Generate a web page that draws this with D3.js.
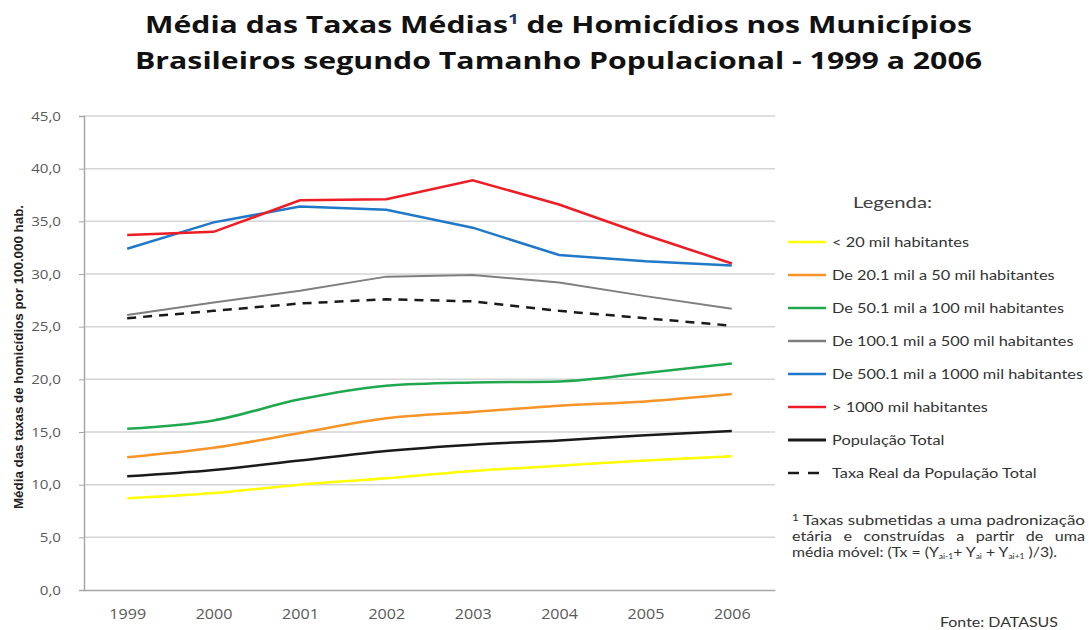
<!DOCTYPE html>
<html>
<head>
<meta charset="utf-8">
<script src="https://cdn.jsdelivr.net/npm/d3@7"></script>
<style>
  body { margin: 0; background: #fff; }
  svg { font-family: Lato, "Open Sans", sans-serif; }
</style>
</head>
<body>
<div id="chart"></div>
<script>
var years = ['1999', '2000', '2001', '2002', '2003', '2004', '2005', '2006'];
var yTicks = [0, 5, 10, 15, 20, 25, 30, 35, 40, 45];

var ate20 = [8.7, 9.2, 10.0, 10.6, 11.3, 11.8, 12.3, 12.7];
var de20a50 = [12.6, 13.5, 14.9, 16.3, 16.9, 17.5, 17.9, 18.6];
var de50a100 = [15.3, 16.1, 18.1, 19.4, 19.7, 19.8, 20.6, 21.5];
var de100a500 = [26.1, 27.3, 28.4, 29.75, 29.9, 29.2, 27.9, 26.7];
var de500a1000 = [32.4, 34.9, 36.4, 36.1, 34.4, 31.8, 31.2, 30.8];
var acima1000 = [33.7, 34.0, 37.0, 37.1, 38.9, 36.6, 33.7, 31.0];
var popTotal = [10.8, 11.4, 12.3, 13.2, 13.8, 14.2, 14.7, 15.1];
var taxaReal = [25.8, 26.5, 27.2, 27.6, 27.4, 26.5, 25.8, 25.1];

var series = [
  { name: '< 20 mil habitantes', values: ate20, color: '#ffff00', smooth: true },
  { name: 'De 20.1 mil a 50 mil habitantes', values: de20a50, color: '#f79327', smooth: true },
  { name: 'De 50.1 mil a 100 mil habitantes', values: de50a100, color: '#20a84e', smooth: true },
  { name: 'De 100.1 mil a 500 mil habitantes', values: de100a500, color: '#7f7f7f', smooth: false, w: 2 },
  { name: 'De 500.1 mil a 1000 mil habitantes', values: de500a1000, color: '#1f78c8', smooth: false },
  { name: '> 1000 mil habitantes', values: acima1000, color: '#ee1c24', smooth: false },
  { name: 'População Total', values: popTotal, color: '#1a1a1a', smooth: true },
  { name: 'Taxa Real da População Total', values: taxaReal, color: '#1a1a1a', smooth: false, dash: '9,7' }
];

var W = 1089, H = 630;
var svg = d3.select('#chart').append('svg').attr('width', W).attr('height', H);

// widen a text horizontally (the source picture is stretched)
function stretch(sel, k, len) {
  sel.each(function() {
    var t = d3.select(this);
    t.attr('textLength', len || this.getComputedTextLength() * k)
      .attr('lengthAdjust', 'spacingAndGlyphs');
  });
}

// title
var title = svg.append('g')
  .attr('text-anchor', 'middle')
  .attr('font-family', '"Open Sans", Lato, sans-serif')
  .attr('font-weight', 'bold')
  .attr('font-size', 24)
  .attr('fill', '#111');
var t1 = title.append('text').attr('x', 558.5).attr('y', 33);
t1.append('tspan').text('Média das Taxas Médias');
t1.append('tspan').attr('font-size', 15).attr('dy', -9).attr('fill', '#1f3864').text('1');
t1.append('tspan').attr('dy', 9).text(' de Homicídios nos Municípios');
var t2 = title.append('text').attr('x', 558.5).attr('y', 69)
  .text('Brasileiros segundo Tamanho Populacional - 1999 a 2006');
stretch(t1, 1, 827);
stretch(t2, 1, 847);

// scales
var x = d3.scalePoint().domain(years).range([84, 775]).padding(0.5);
var y = d3.scaleLinear().domain([0, 45]).range([590, 116]);

// grid
svg.append('g').selectAll('line').data(yTicks.slice(1)).enter().append('line')
  .attr('x1', 84).attr('x2', 775)
  .attr('y1', function(d) { return y(d); }).attr('y2', function(d) { return y(d); })
  .attr('stroke', '#d4d4d4').attr('stroke-width', 1.5);

// y axis
var yAxis = d3.axisLeft(y).tickValues(yTicks).tickSize(5).tickPadding(18)
  .tickFormat(function(d) { return d3.format('.1f')(d).replace('.', ','); });
var gy = svg.append('g').attr('transform', 'translate(84,0)').call(yAxis);
gy.select('.domain').attr('stroke', '#a6a6a6').attr('stroke-width', 1.5);
gy.selectAll('.tick line').attr('stroke', '#a6a6a6');
gy.selectAll('.tick text').attr('fill', '#595959').attr('font-size', 13.5)
  .attr('font-family', '"Open Sans", Lato, sans-serif');
stretch(gy.selectAll('.tick text'), 1.12);

// x axis
var xAxis = d3.axisBottom(x).tickSize(0).tickPadding(19);
var gx = svg.append('g').attr('transform', 'translate(0,590)').call(xAxis);
gx.select('.domain').attr('stroke', '#a6a6a6').attr('stroke-width', 1.5);
gx.selectAll('.tick text').attr('fill', '#595959').attr('font-size', 14)
  .attr('font-family', '"Open Sans", Lato, sans-serif');
stretch(gx.selectAll('.tick text'), 1.15);

// y label
svg.append('text')
  .attr('transform', 'translate(23,357) rotate(-90)')
  .attr('text-anchor', 'middle')
  .attr('font-family', '"Liberation Sans Narrow", "Liberation Sans", sans-serif')
  .attr('font-weight', 'bold')
  .attr('font-size', 12)
  .attr('fill', '#222')
  .attr('textLength', 304).attr('lengthAdjust', 'spacingAndGlyphs')
  .text('Média das taxas de homicídios por 100.000 hab.');

// lines
var gLines = svg.append('g');
series.forEach(function(s) {
  var line = d3.line()
    .x(function(d, i) { return x(years[i]); })
    .y(function(d) { return y(d); })
    .curve(s.smooth ? d3.curveMonotoneX : d3.curveLinear);
  gLines.append('path').datum(s.values)
    .attr('d', line)
    .attr('fill', 'none')
    .attr('stroke', s.color)
    .attr('stroke-width', s.w || 2.5)
    .attr('stroke-dasharray', s.dash || null);
});

// legend
svg.append('rect').attr('x', 778).attr('y', 180).attr('width', 311).attr('height', 310).attr('fill', '#fff');
var lg = svg.append('text').attr('x', 853).attr('y', 208).attr('font-size', 15).attr('fill', '#404040').text('Legenda:');
stretch(lg, 1, 79);
var rows = svg.append('g').selectAll('g').data(series).enter().append('g')
  .attr('transform', function(d, i) { return 'translate(0,' + (242 + i * 33) + ')'; });
rows.append('line').attr('x1', 788).attr('x2', 826).attr('y1', 0).attr('y2', 0)
  .attr('stroke', function(d) { return d.color; })
  .attr('stroke-width', function(d) { return d.name === 'População Total' ? 3 : 2.5; })
  .attr('stroke-dasharray', function(d) { return d.dash ? '11,9' : null; });
var lt = rows.append('text').attr('x', 832).attr('y', 5).attr('font-size', 13.5).attr('fill', '#333')
  .text(function(d) { return d.name; });
stretch(lt, 1.21);

// footnote
var fn = svg.append('g').attr('font-size', 13).attr('fill', '#333');
var f1 = fn.append('text').attr('x', 792).attr('y', 525);
f1.append('tspan').attr('font-size', 9).attr('dy', -4).text('1');
f1.append('tspan').attr('dy', 4).text(' Taxas submetidas a uma padronização');
stretch(f1, 1, 293);
var f2 = fn.append('text').attr('x', 792).attr('y', 541)
  .attr('word-spacing', 6)
  .text('etária e construídas a partir de uma');
stretch(f2, 1, 293);
var f3 = fn.append('text').attr('x', 792).attr('y', 557);
f3.append('tspan').text('média móvel: (Tx = (Y');
f3.append('tspan').attr('font-size', 7).attr('dy', 2).text('ai-1');
f3.append('tspan').attr('dy', -2).text('+ Y');
f3.append('tspan').attr('font-size', 7).attr('dy', 2).text('ai');
f3.append('tspan').attr('dy', -2).text(' + Y');
f3.append('tspan').attr('font-size', 7).attr('dy', 2).text('ai+1');
f3.append('tspan').attr('dy', -2).text(' )/3).');
stretch(f3, 1, 265);

var fonte = svg.append('text').attr('x', 940).attr('y', 627).attr('font-size', 13).attr('fill', '#333')
  .text('Fonte: DATASUS');
stretch(fonte, 1, 118);
</script>
</body>
</html>
